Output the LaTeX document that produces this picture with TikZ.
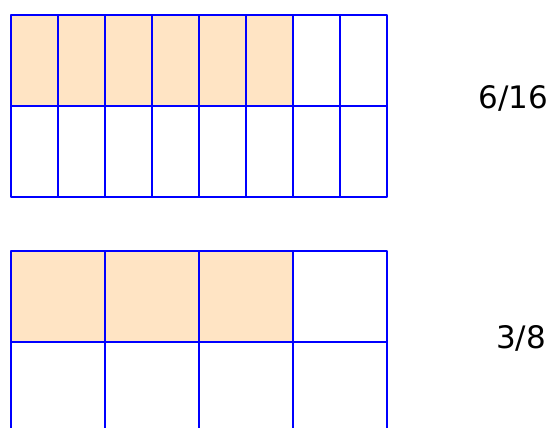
\documentclass[tikz,border=0pt]{standalone}
\usepackage{fontspec}
\setmainfont{DejaVu Sans}
\definecolor{peach}{RGB}{255,228,196}
\begin{document}
\begin{tikzpicture}[x=1pt, y=-1pt,
  gridline/.style={draw=blue, line width=1.5pt, line join=round},
  shaded/.style={fill=peach},
  frac/.style={font=\fontsize{31}{36}\selectfont, inner sep=0pt, anchor=base}]

  \useasboundingbox (0,0) rectangle (552,428);
  \clip (0,0) rectangle (552,428);

  % sixteenths
  \foreach \i in {0,...,5}
    \fill[shaded] (11+47*\i,15) rectangle ++(47,91);
  \foreach \i in {0,...,7}
    \foreach \j in {0,1}
      \draw[gridline] (11+47*\i,15+91*\j) rectangle ++(47,91);

  % eighths
  \foreach \i in {0,...,2}
    \fill[shaded] (11+94*\i,251) rectangle ++(94,91);
  \foreach \i in {0,...,3}
    \foreach \j in {0,1}
      \draw[gridline] (11+94*\i,251+91*\j) rectangle ++(94,91);

  \node[frac] (f16) at (513.5,108) {6/16};
  \node[frac] (f8)  at (521,348) {3/8};
\end{tikzpicture}
\end{document}
